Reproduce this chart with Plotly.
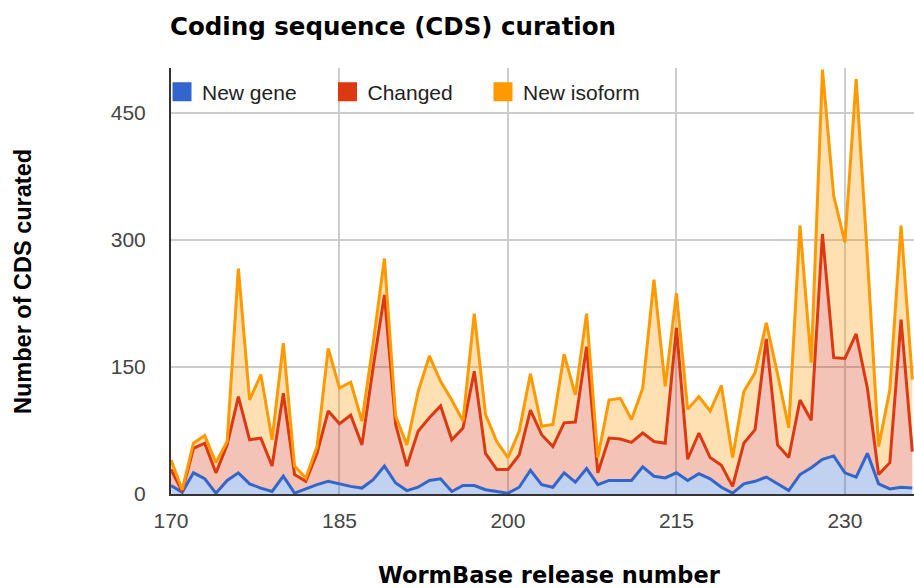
import plotly.graph_objects as go

releases = list(range(170, 237))
new_gene = [10, 2, 25, 18, 1, 16, 25, 12, 7, 3, 21, 1, 6, 11, 15, 12, 9, 7, 17, 33,
            13, 4, 8, 16, 18, 3, 10, 10, 5, 3, 1, 8, 28, 11, 8, 25, 14, 30, 11, 16,
            16, 16, 32, 21, 19, 25, 16, 24, 18, 8, 1, 12, 15, 20, 12, 4, 23, 31, 41, 45,
            25, 20, 48, 12, 6, 8, 7]
changed = [19, 1, 29, 42, 24, 42, 90, 52, 59, 30, 98, 22, 9, 37, 83, 71, 84, 51, 133, 202,
           69, 29, 66, 74, 86, 61, 68, 135, 43, 26, 28, 38, 71, 59, 48, 59, 71, 144, 14, 50,
           49, 45, 40, 41, 41, 171, 25, 48, 25, 26, 8, 48, 61, 163, 46, 39, 88, 56, 266, 116,
           135, 169, 77, 11, 31, 198, 43]
new_isoform = [11, 2, 6, 9, 12, 4, 151, 47, 75, 31, 59, 10, 4, 8, 74, 42, 39, 28, 28, 43,
               10, 25, 47, 73, 29, 47, 8, 68, 46, 33, 14, 28, 43, 10, 26, 81, 32, 39, 18, 45,
               48, 27, 53, 191, 67, 41, 59, 43, 55, 94, 34, 61, 67, 19, 84, 35, 206, 68, 194, 191,
               137, 301, 155, 33, 86, 111, 85]

series_names = ["New gene", "Changed", "New isoform"]
series_values = [new_gene, changed, new_isoform]
line_colors = ["#3366CC", "#DC3912", "#FF9900"]
fill_colors = ["rgba(51,102,204,0.3)", "rgba(220,57,18,0.3)", "rgba(255,153,0,0.3)"]
y_ticks = [0, 150, 300, 450]
x_ticks = [170, 185, 200, 215, 230]

fig = go.Figure()
for name, vals, lc, fc in zip(series_names, series_values, line_colors, fill_colors):
    fig.add_trace(go.Scatter(
        x=releases, y=vals, name=name, mode="lines", stackgroup="cds",
        line=dict(color=lc, width=3), fillcolor=fc, showlegend=False,
        hoverinfo="x+y+name",
    ))

legend_ids = ["legend", "legend2", "legend3"]
legend_x = [-0.0121, 0.2106, 0.4199]
for name, lc, lid in zip(series_names, line_colors, legend_ids):
    fig.add_trace(go.Scatter(
        x=[None], y=[None], name=name, mode="markers",
        marker=dict(symbol="square", size=16, color=lc, line=dict(color=lc, width=3)),
        legend=lid, showlegend=True,
    ))

legend_common = dict(
    orientation="h", xanchor="left", yanchor="middle", y=0.9437,
    bgcolor="rgba(0,0,0,0)", borderwidth=0,
    font=dict(family="Liberation Sans, Arial, sans-serif", size=21, color="#222222"),
)

layout_legends = {}
for lid, lx in zip(legend_ids, legend_x):
    d = dict(legend_common)
    d["x"] = lx
    layout_legends[lid] = d

fig.update_layout(
    width=914, height=588,
    margin=dict(l=171, r=0, t=68, b=94),
    paper_bgcolor="white", plot_bgcolor="white",
    font=dict(family="Liberation Sans, Arial, sans-serif", size=21, color="#444444"),
    title=dict(
        text="Coding sequence (CDS) curation",
        x=170 / 914, xref="container", xanchor="left",
        y=1 - 26 / 588, yref="container", yanchor="middle",
        font=dict(family="DejaVu Sans, sans-serif", size=24.5, color="#000000", weight="bold"),
    ),
    xaxis=dict(
        range=[170, 236.15], tickvals=x_ticks, ticktext=[str(v) for v in x_ticks],
        showgrid=True, gridcolor="#CCCCCC", gridwidth=1.5,
        zeroline=False, showline=True, linecolor="#333333", linewidth=2,
        ticks="", ticklabelstandoff=7,
        tickfont=dict(size=21, color="#444444"),
    ),
    yaxis=dict(
        range=[0, 503], tickvals=y_ticks, ticktext=[str(v) for v in y_ticks],
        showgrid=True, gridcolor="#CCCCCC", gridwidth=1.5,
        zeroline=False, showline=True, linecolor="#333333", linewidth=2,
        ticks="", ticklabelstandoff=19,
        tickfont=dict(size=21, color="#444444"),
    ),
    annotations=[
        dict(text="WormBase release number", xref="paper", yref="paper",
             x=(549 - 171) / 743, y=(494 - 575) / 426, xanchor="center", yanchor="middle",
             showarrow=False,
             font=dict(family="DejaVu Sans, sans-serif", size=22.5, color="#000000", weight="bold")),
        dict(text="Number of CDS curated", xref="paper", yref="paper",
             x=(23 - 171) / 743, y=(494 - 282) / 426, xanchor="center", yanchor="middle",
             textangle=-90, showarrow=False,
             font=dict(family="Liberation Sans, Arial, sans-serif", size=23.5, color="#000000", weight="bold")),
    ],
    **layout_legends,
)

fig.write_html(
    "out.html",
    config={"displayModeBar": False},
    post_script="document.body.style.margin='0';document.body.style.overflow='hidden';",
)
